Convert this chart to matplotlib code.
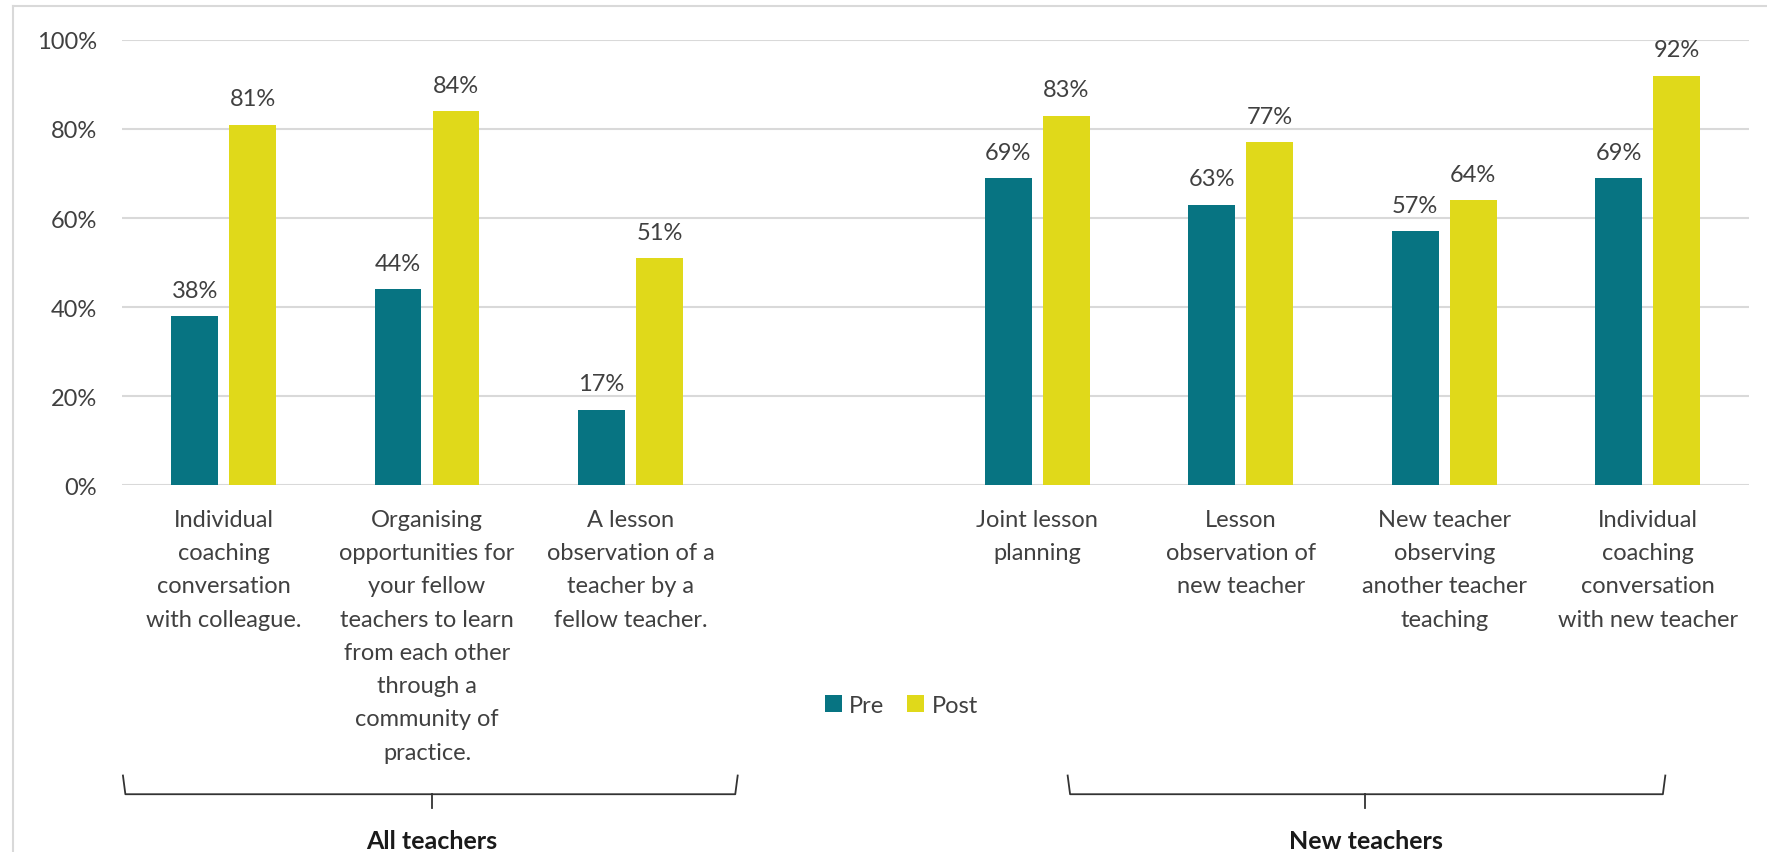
import matplotlib
matplotlib.use("Agg")
import matplotlib.pyplot as plt
import numpy as np

# ---- data ----
categories = [
    "Individual\ncoaching\nconversation\nwith colleague.",
    "Organising\nopportunities for\nyour fellow\nteachers to learn\nfrom each other\nthrough a\ncommunity of\npractice.",
    "A lesson\nobservation of a\nteacher by a\nfellow teacher.",
    "Joint lesson\nplanning",
    "Lesson\nobservation of\nnew teacher",
    "New teacher\nobserving\nanother teacher\nteaching",
    "Individual\ncoaching\nconversation\nwith new teacher",
]
positions = [0, 1, 2, 4, 5, 6, 7]
pre = [38, 44, 17, 69, 63, 57, 69]
post = [81, 84, 51, 83, 77, 64, 92]
series_names = ["Pre", "Post"]
yticks = [0, 20, 40, 60, 80, 100]
ytick_labels = ["0%", "20%", "40%", "60%", "80%", "100%"]
group_names = ["All teachers", "New teachers"]

TEAL = "#077482"
YELLOW = "#e0d91a"
TXT = "#404040"
GRID = "#d9d9d9"

plt.rcParams['font.family'] = ['Lato', 'DejaVu Sans']

fig = plt.figure(figsize=(17.67, 8.53), dpi=100)
ax = fig.add_axes([0.069, 0.430, 0.921, 0.522])

x = np.array(positions, dtype=float)
w = 0.23
off = 0.1425
b1 = ax.bar(x - off, pre, width=w, color=TEAL, label=series_names[0], zorder=3)
b2 = ax.bar(x + off, post, width=w, color=YELLOW, label=series_names[1], zorder=3)

for bars, vals in ((b1, pre), (b2, post)):
    for rect, v in zip(bars, vals):
        ax.annotate(f"{v}%", (rect.get_x() + rect.get_width() / 2, rect.get_height()),
                    xytext=(0, 11), textcoords="offset points", ha="center", va="bottom",
                    fontsize=17, color=TXT)

ax.set_xlim(-0.5, 7.5)
ax.set_ylim(0, 100)
ax.set_yticks(yticks)
ax.set_yticklabels(ytick_labels, fontsize=17, color=TXT)
ax.tick_params(axis='y', length=0, pad=18)
ax.set_xticks(x)
ax.set_xticklabels(categories, fontsize=17, color=TXT, linespacing=1.72)
ax.tick_params(axis='x', length=0, pad=17)
ax.grid(axis='y', color=GRID, linewidth=1.5, zorder=0)
for s in ax.spines.values():
    s.set_visible(False)

# legend
leg = fig.legend(handles=[b1, b2], labels=series_names, loc="center", bbox_to_anchor=(0.51, 0.172),
                 ncol=2, frameon=False, fontsize=17, handlelength=0.72, handleheight=0.72,
                 handletextpad=0.3, columnspacing=1.0, labelcolor=TXT)

# braces (x in data, y in axes fraction)
trans = ax.get_xaxis_transform()
braces = [(-0.495, 2.527, 1.023), (4.149, 7.087, 5.613)]
y_line, y_top, y_tick = -0.694, -0.652, -0.726
for (xa, xb, xc), name in zip(braces, group_names):
    ax.plot([xa, xa + 0.012, xb - 0.012, xb], [y_top, y_line, y_line, y_top],
            transform=trans, color="#333333", lw=1.3, clip_on=False,
            solid_joinstyle='round')
    ax.plot([xc, xc], [y_line, y_tick], transform=trans, color="#333333", lw=1.3, clip_on=False)
    ax.text(xc, -0.815, name, transform=trans, ha="center", va="baseline",
            fontsize=18, fontweight="bold", color="#1a1a1a")

# chart frame (top and left edges)
fig.add_artist(plt.Line2D([13 / 1767, 13 / 1767], [0, 1 - 7 / 853], transform=fig.transFigure,
                          color=GRID, lw=1.5))
fig.add_artist(plt.Line2D([13 / 1767, 1], [1 - 7 / 853, 1 - 7 / 853], transform=fig.transFigure,
                          color=GRID, lw=1.5))

fig.savefig("out.png", dpi=100, facecolor="white")
